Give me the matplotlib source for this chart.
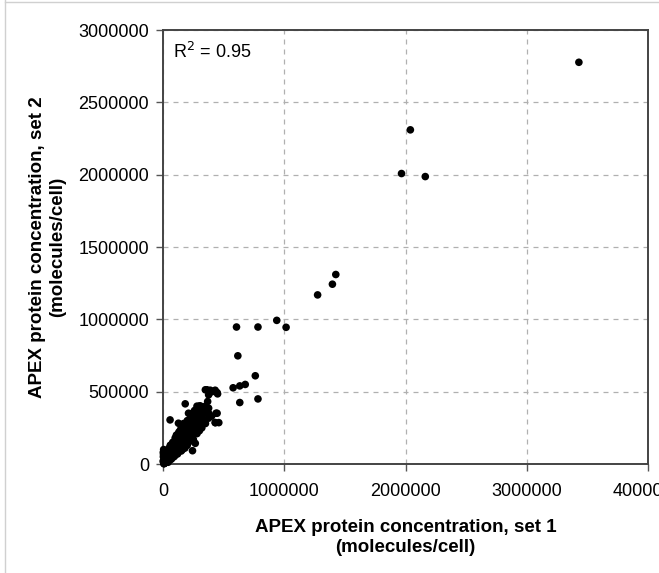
import matplotlib.pyplot as plt
from matplotlib.lines import Line2D

plt.rcParams['font.family'] = ['Liberation Sans', 'DejaVu Sans']

# APEX protein concentration, set 1 vs set 2 (molecules/cell)
set1 = [
    3430000, 2040000, 1967000, 2163000, 1425000, 1397000, 1275000, 1015000,
    606000, 783000, 938000, 617000, 761000, 578000, 633000, 678000, 633000, 783000,
    349000, 390000, 430000, 450000, 376000, 368000, 293000, 183000, 58000,
    376000, 376000, 437000, 430000, 460000, 210000, 127000, 243000, 266000,
    300000, 363000, 404000, 446000, 307000, 446000, 432000, 376000,
    5000, 10000, 15000, 20000, 8000, 3000, 2000, 5000, 12000, 25000, 30000,
    35000, 40000, 45000, 50000, 55000, 60000, 65000, 70000, 75000, 80000,
    85000, 90000, 95000, 100000, 105000, 110000, 115000, 120000, 125000,
    130000, 135000, 140000, 145000, 150000, 155000, 160000, 165000, 170000,
    175000, 180000, 185000, 190000, 195000, 200000, 205000, 210000, 215000,
    220000, 225000, 230000, 235000, 240000, 245000, 250000, 255000, 260000,
    270000, 280000, 290000, 300000, 310000, 320000, 330000, 340000, 350000,
    18000, 28000, 38000, 48000, 62000, 72000, 88000, 98000, 108000, 118000,
    128000, 138000, 148000, 158000, 168000, 178000, 188000, 198000, 208000,
    218000, 228000, 238000, 248000, 262000, 275000, 285000, 295000, 315000,
    1000, 4000, 7000, 12000, 22000, 32000, 42000, 52000, 9000, 14000,
    150000, 200000, 250000, 280000, 320000, 350000, 180000, 120000, 90000,
    60000, 220000, 300000, 340000, 400000, 50000, 80000, 100000, 130000,
    150000, 170000, 200000, 230000, 260000, 280000, 30000, 60000, 110000,
    140000, 190000, 240000, 160000, 210000, 100000, 70000, 40000, 20000,
]
set2 = [
    2777000, 2310000, 2008000, 1987000, 1310000, 1243000, 1169000, 945000,
    947000, 947000, 993000, 748000, 610000, 527000, 540000, 550000, 425000, 450000,
    513000, 510000, 510000, 485000, 478000, 432000, 397000, 416000, 305000,
    386000, 351000, 351000, 286000, 286000, 351000, 282000, 92000, 143000,
    400000, 513000, 500000, 494000, 402000, 351000, 286000, 317000,
    10000, 5000, 20000, 12000, 30000, 50000, 80000, 100000, 60000, 30000, 15000,
    40000, 25000, 55000, 35000, 70000, 45000, 80000, 60000, 95000, 70000,
    110000, 85000, 120000, 100000, 140000, 115000, 90000, 150000, 130000,
    160000, 120000, 175000, 150000, 190000, 165000, 140000, 200000, 180000,
    220000, 195000, 160000, 240000, 210000, 260000, 230000, 200000, 270000,
    250000, 290000, 240000, 300000, 270000, 320000, 280000, 230000, 330000,
    300000, 350000, 320000, 380000, 360000, 330000, 390000, 350000, 400000,
    8000, 22000, 48000, 40000, 75000, 58000, 100000, 80000, 125000, 105000,
    145000, 110000, 170000, 135000, 185000, 155000, 215000, 180000, 235000,
    205000, 260000, 215000, 285000, 250000, 310000, 260000, 280000, 300000,
    20000, 65000, 2000, 90000, 18000, 45000, 12000, 28000, 3000, 8000,
    90000, 130000, 170000, 210000, 250000, 280000, 110000, 70000, 50000,
    30000, 160000, 230000, 300000, 330000, 110000, 150000, 180000, 220000,
    250000, 280000, 300000, 330000, 370000, 400000, 80000, 130000, 200000,
    230000, 270000, 350000, 100000, 150000, 60000, 35000, 18000, 45000,
]

x_ticks = [0, 1000000, 2000000, 3000000, 4000000]
y_ticks = [0, 500000, 1000000, 1500000, 2000000, 2500000, 3000000]

fig = plt.figure(figsize=(6.59, 5.73), dpi=100)
ax = fig.add_axes([0.2474, 0.1902, 0.7359, 0.7574])

ax.scatter(set1, set2, s=30, color='black', edgecolors='none', zorder=3, clip_on=False)

ax.set_xlim(0, 4000000)
ax.set_ylim(0, 3000000)
ax.set_xticks(x_ticks)
ax.set_yticks(y_ticks)
ax.set_xticklabels([str(v) for v in x_ticks])
ax.set_yticklabels([str(v) for v in y_ticks])
ax.tick_params(labelsize=13, length=5, width=1, color='#555555')
ax.tick_params(axis='x', pad=9)
ax.tick_params(axis='y', pad=5)

ax.grid(True, linestyle=(0, (4, 4)), color='#b0b0b0', linewidth=0.9, zorder=0)
ax.set_axisbelow(True)
for sp in ax.spines.values():
    sp.set_color('#444444')
    sp.set_linewidth(1.4)

ax.set_xlabel('APEX protein concentration, set 1\n(molecules/cell)',
              fontsize=13.5, fontweight='bold', labelpad=13, linespacing=1.25)
ax.set_ylabel('APEX protein concentration, set 2\n(molecules/cell)',
              fontsize=13.5, fontweight='bold', labelpad=9, linespacing=1.2)

ax.text(0.02, 0.95, 'R$^2$ = 0.95', transform=ax.transAxes, fontsize=13,
        va='center', ha='left')

# thin page border seen at the left and top of the original
fig.add_artist(Line2D([5 / 659, 5 / 659], [0, 1], color='#d0d0d0', linewidth=1))
fig.add_artist(Line2D([5 / 659, 1], [1 - 1.5 / 573, 1 - 1.5 / 573], color='#d0d0d0', linewidth=1))

fig.savefig('out.png', dpi=100)
